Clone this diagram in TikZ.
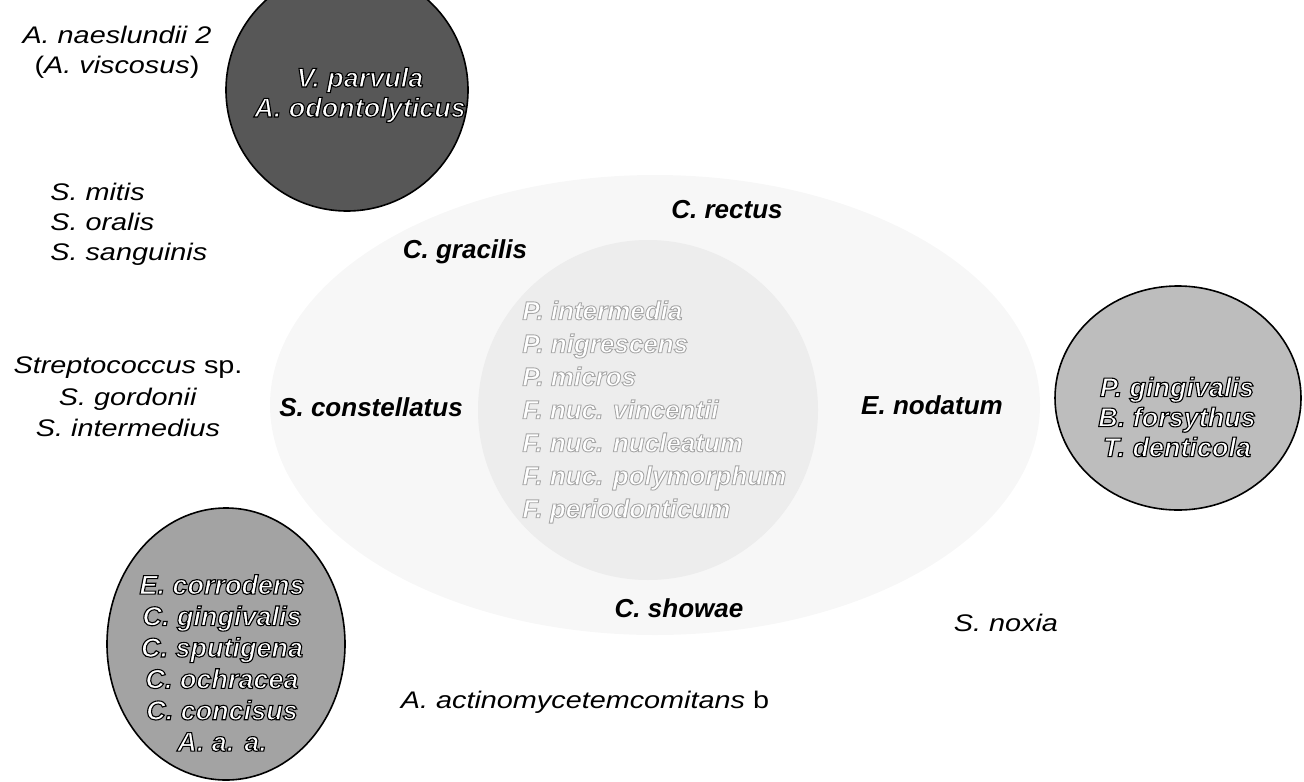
\documentclass[tikz,border=0pt]{standalone}
\usepackage{fontspec}
\setmainfont{Liberation Sans}
\newfontfamily\widefont[FakeStretch=1.2]{Liberation Sans}
% outlined text: white fill, coloured stroke (text render mode 2)
\newcommand\outlon[2]{\special{pdf:literal direct 2 Tr #2 w 1 g #1 G}}
\newcommand\outloff{\special{pdf:literal direct 0 Tr 0 g 0 G}}
\begin{document}
\begin{tikzpicture}[x=0.5pt,y=-0.5pt,
  boldlabel/.style={inner sep=0pt, font=\fontsize{13}{15}\selectfont\bfseries\itshape},
  reglabel/.style={inner sep=0pt, font=\widefont\fontsize{12}{15}\selectfont},
  circtext/.style={inner sep=0pt, align=center, font=\fontsize{13.5}{15}\selectfont\bfseries\itshape},
  coretext/.style={inner sep=0pt, align=left, font=\fontsize{13}{16.5}\selectfont\bfseries\itshape},
  complex/.style={draw=black, line width=0.8pt}
]
\useasboundingbox (0,0) rectangle (1304,781);
% outer orange-complex region and its core
\path[fill=black!3] (655,405) ellipse [x radius=385, y radius=230];
\path[fill=black!7] (648,410) circle [radius=170];
% purple complex
\filldraw[complex, fill=black!66] (347,90) circle [radius=121];
% red complex
\filldraw[complex, fill=black!26] (1178,398) ellipse [x radius=123, y radius=112];
% green complex
\filldraw[complex, fill=black!36] (226,644) ellipse [x radius=119, y radius=136];

\node[circtext] (purple) at (360,95) {\outlon{0}{0.55}V. parvula\\A. odontolyticus\outloff};
\node[circtext] (red) at (1177,417) {\outlon{0}{0.55}P. gingivalis\\B. forsythus\\T. denticola\outloff};
\node[circtext, font=\fontsize{13.5}{15.7}\selectfont\bfseries\itshape] (green) at (222,663) {\outlon{0}{0.55}E. corrodens\\C. gingivalis\\C. sputigena\\C. ochracea\\C. concisus\\A. a. a.\outloff};
\node[coretext, anchor=west] (orange) at (522,412) {\outlon{0.65}{0.45}P. intermedia\\P. nigrescens\\P. micros\\F. nuc. vincentii\\F. nuc. nucleatum\\F. nuc. polymorphum\\F. periodonticum\outloff};

\node[reglabel, align=center] (actino) at (117,52) {\textit{A. naeslundii 2}\\(\textit{A. viscosus})};
\node[reglabel, align=left, anchor=west] (mitis) at (50,224) {\textit{S. mitis}\\\textit{S. oralis}\\\textit{S. sanguinis}};
\node[reglabel, align=center, font=\widefont\fontsize{12}{15.75}\selectfont] (strep) at (128,397) {\textit{Streptococcus} sp.\\\textit{S. gordonii}\\\textit{S. intermedius}};

\node[boldlabel] (gracilis) at (465,252) {C. gracilis};
\node[boldlabel] (rectus) at (727,210) {C. rectus};
\node[boldlabel] (constell) at (371,407) {S. constellatus};
\node[boldlabel] (nodatum) at (932,405) {E. nodatum};
\node[boldlabel] (showae) at (679,608) {C. showae};
\node[reglabel] (noxia) at (1006,623) {\textit{S. noxia}};
\node[reglabel] (aa) at (585,702) {\textit{A. actinomycetemcomitans} b};
\end{tikzpicture}
\end{document}
